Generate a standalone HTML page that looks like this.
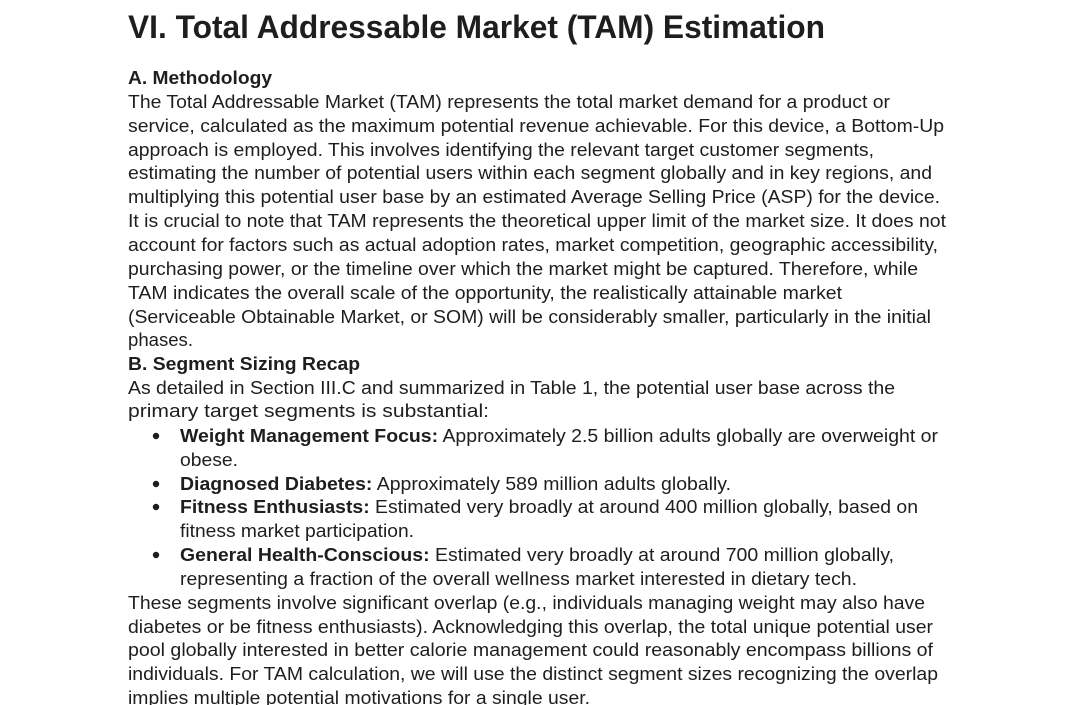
<!DOCTYPE html>
<html><head><meta charset="utf-8"><style>
html,body{margin:0;padding:0;background:#fff;width:1080px;height:705px;overflow:hidden}
svg{display:block}
text{font-family:"Liberation Sans",Arial,sans-serif;fill:#1e1e1e;font-size:18px}
.b{font-weight:bold}
</style></head><body>
<svg width="1080" height="705" viewBox="0 0 1080 705">
<text x="128" y="38" class="b" style="font-size:32px" textLength="697" lengthAdjust="spacingAndGlyphs">VI. Total Addressable Market (TAM) Estimation</text>
<text x="128" y="84" class="b" textLength="144" lengthAdjust="spacingAndGlyphs">A. Methodology</text>
<text x="128" y="108" textLength="762" lengthAdjust="spacingAndGlyphs">The Total Addressable Market (TAM) represents the total market demand for a product or</text>
<text x="128" y="132" textLength="816" lengthAdjust="spacingAndGlyphs">service, calculated as the maximum potential revenue achievable. For this device, a Bottom-Up</text>
<text x="128" y="156" textLength="746" lengthAdjust="spacingAndGlyphs">approach is employed. This involves identifying the relevant target customer segments,</text>
<text x="128" y="179" textLength="804" lengthAdjust="spacingAndGlyphs">estimating the number of potential users within each segment globally and in key regions, and</text>
<text x="128" y="203" textLength="812" lengthAdjust="spacingAndGlyphs">multiplying this potential user base by an estimated Average Selling Price (ASP) for the device.</text>
<text x="128" y="227" textLength="818" lengthAdjust="spacingAndGlyphs">It is crucial to note that TAM represents the theoretical upper limit of the market size. It does not</text>
<text x="128" y="251" textLength="810" lengthAdjust="spacingAndGlyphs">account for factors such as actual adoption rates, market competition, geographic accessibility,</text>
<text x="128" y="275" textLength="790" lengthAdjust="spacingAndGlyphs">purchasing power, or the timeline over which the market might be captured. Therefore, while</text>
<text x="128" y="299" textLength="714" lengthAdjust="spacingAndGlyphs">TAM indicates the overall scale of the opportunity, the realistically attainable market</text>
<text x="128" y="323" textLength="803" lengthAdjust="spacingAndGlyphs">(Serviceable Obtainable Market, or SOM) will be considerably smaller, particularly in the initial</text>
<text x="128" y="346" textLength="65" lengthAdjust="spacingAndGlyphs">phases.</text>
<text x="128" y="370" class="b" textLength="232" lengthAdjust="spacingAndGlyphs">B. Segment Sizing Recap</text>
<text x="128" y="394" textLength="767" lengthAdjust="spacingAndGlyphs">As detailed in Section III.C and summarized in Table 1, the potential user base across the</text>
<text x="128" y="417" textLength="361" lengthAdjust="spacingAndGlyphs">primary target segments is substantial:</text>
<circle cx="156" cy="436" r="3.2" fill="#1e1e1e"/>
<text x="180" y="442" textLength="758" lengthAdjust="spacingAndGlyphs"><tspan class="b">Weight Management Focus:</tspan> Approximately 2.5 billion adults globally are overweight or</text>
<text x="180" y="466" textLength="58" lengthAdjust="spacingAndGlyphs">obese.</text>
<circle cx="156" cy="484" r="3.2" fill="#1e1e1e"/>
<text x="180" y="490" textLength="551" lengthAdjust="spacingAndGlyphs"><tspan class="b">Diagnosed Diabetes:</tspan> Approximately 589 million adults globally.</text>
<circle cx="156" cy="507" r="3.2" fill="#1e1e1e"/>
<text x="180" y="513" textLength="738" lengthAdjust="spacingAndGlyphs"><tspan class="b">Fitness Enthusiasts:</tspan> Estimated very broadly at around 400 million globally, based on</text>
<text x="180" y="537" textLength="234" lengthAdjust="spacingAndGlyphs">fitness market participation.</text>
<circle cx="156" cy="555" r="3.2" fill="#1e1e1e"/>
<text x="180" y="561" textLength="714" lengthAdjust="spacingAndGlyphs"><tspan class="b">General Health-Conscious:</tspan> Estimated very broadly at around 700 million globally,</text>
<text x="180" y="585" textLength="677" lengthAdjust="spacingAndGlyphs">representing a fraction of the overall wellness market interested in dietary tech.</text>
<text x="128" y="609" textLength="797" lengthAdjust="spacingAndGlyphs">These segments involve significant overlap (e.g., individuals managing weight may also have</text>
<text x="128" y="633" textLength="805" lengthAdjust="spacingAndGlyphs">diabetes or be fitness enthusiasts). Acknowledging this overlap, the total unique potential user</text>
<text x="128" y="656" textLength="805" lengthAdjust="spacingAndGlyphs">pool globally interested in better calorie management could reasonably encompass billions of</text>
<text x="128" y="680" textLength="810" lengthAdjust="spacingAndGlyphs">individuals. For TAM calculation, we will use the distinct segment sizes recognizing the overlap</text>
<text x="128" y="704" textLength="462" lengthAdjust="spacingAndGlyphs">implies multiple potential motivations for a single user.</text>
</svg>
</body></html>
